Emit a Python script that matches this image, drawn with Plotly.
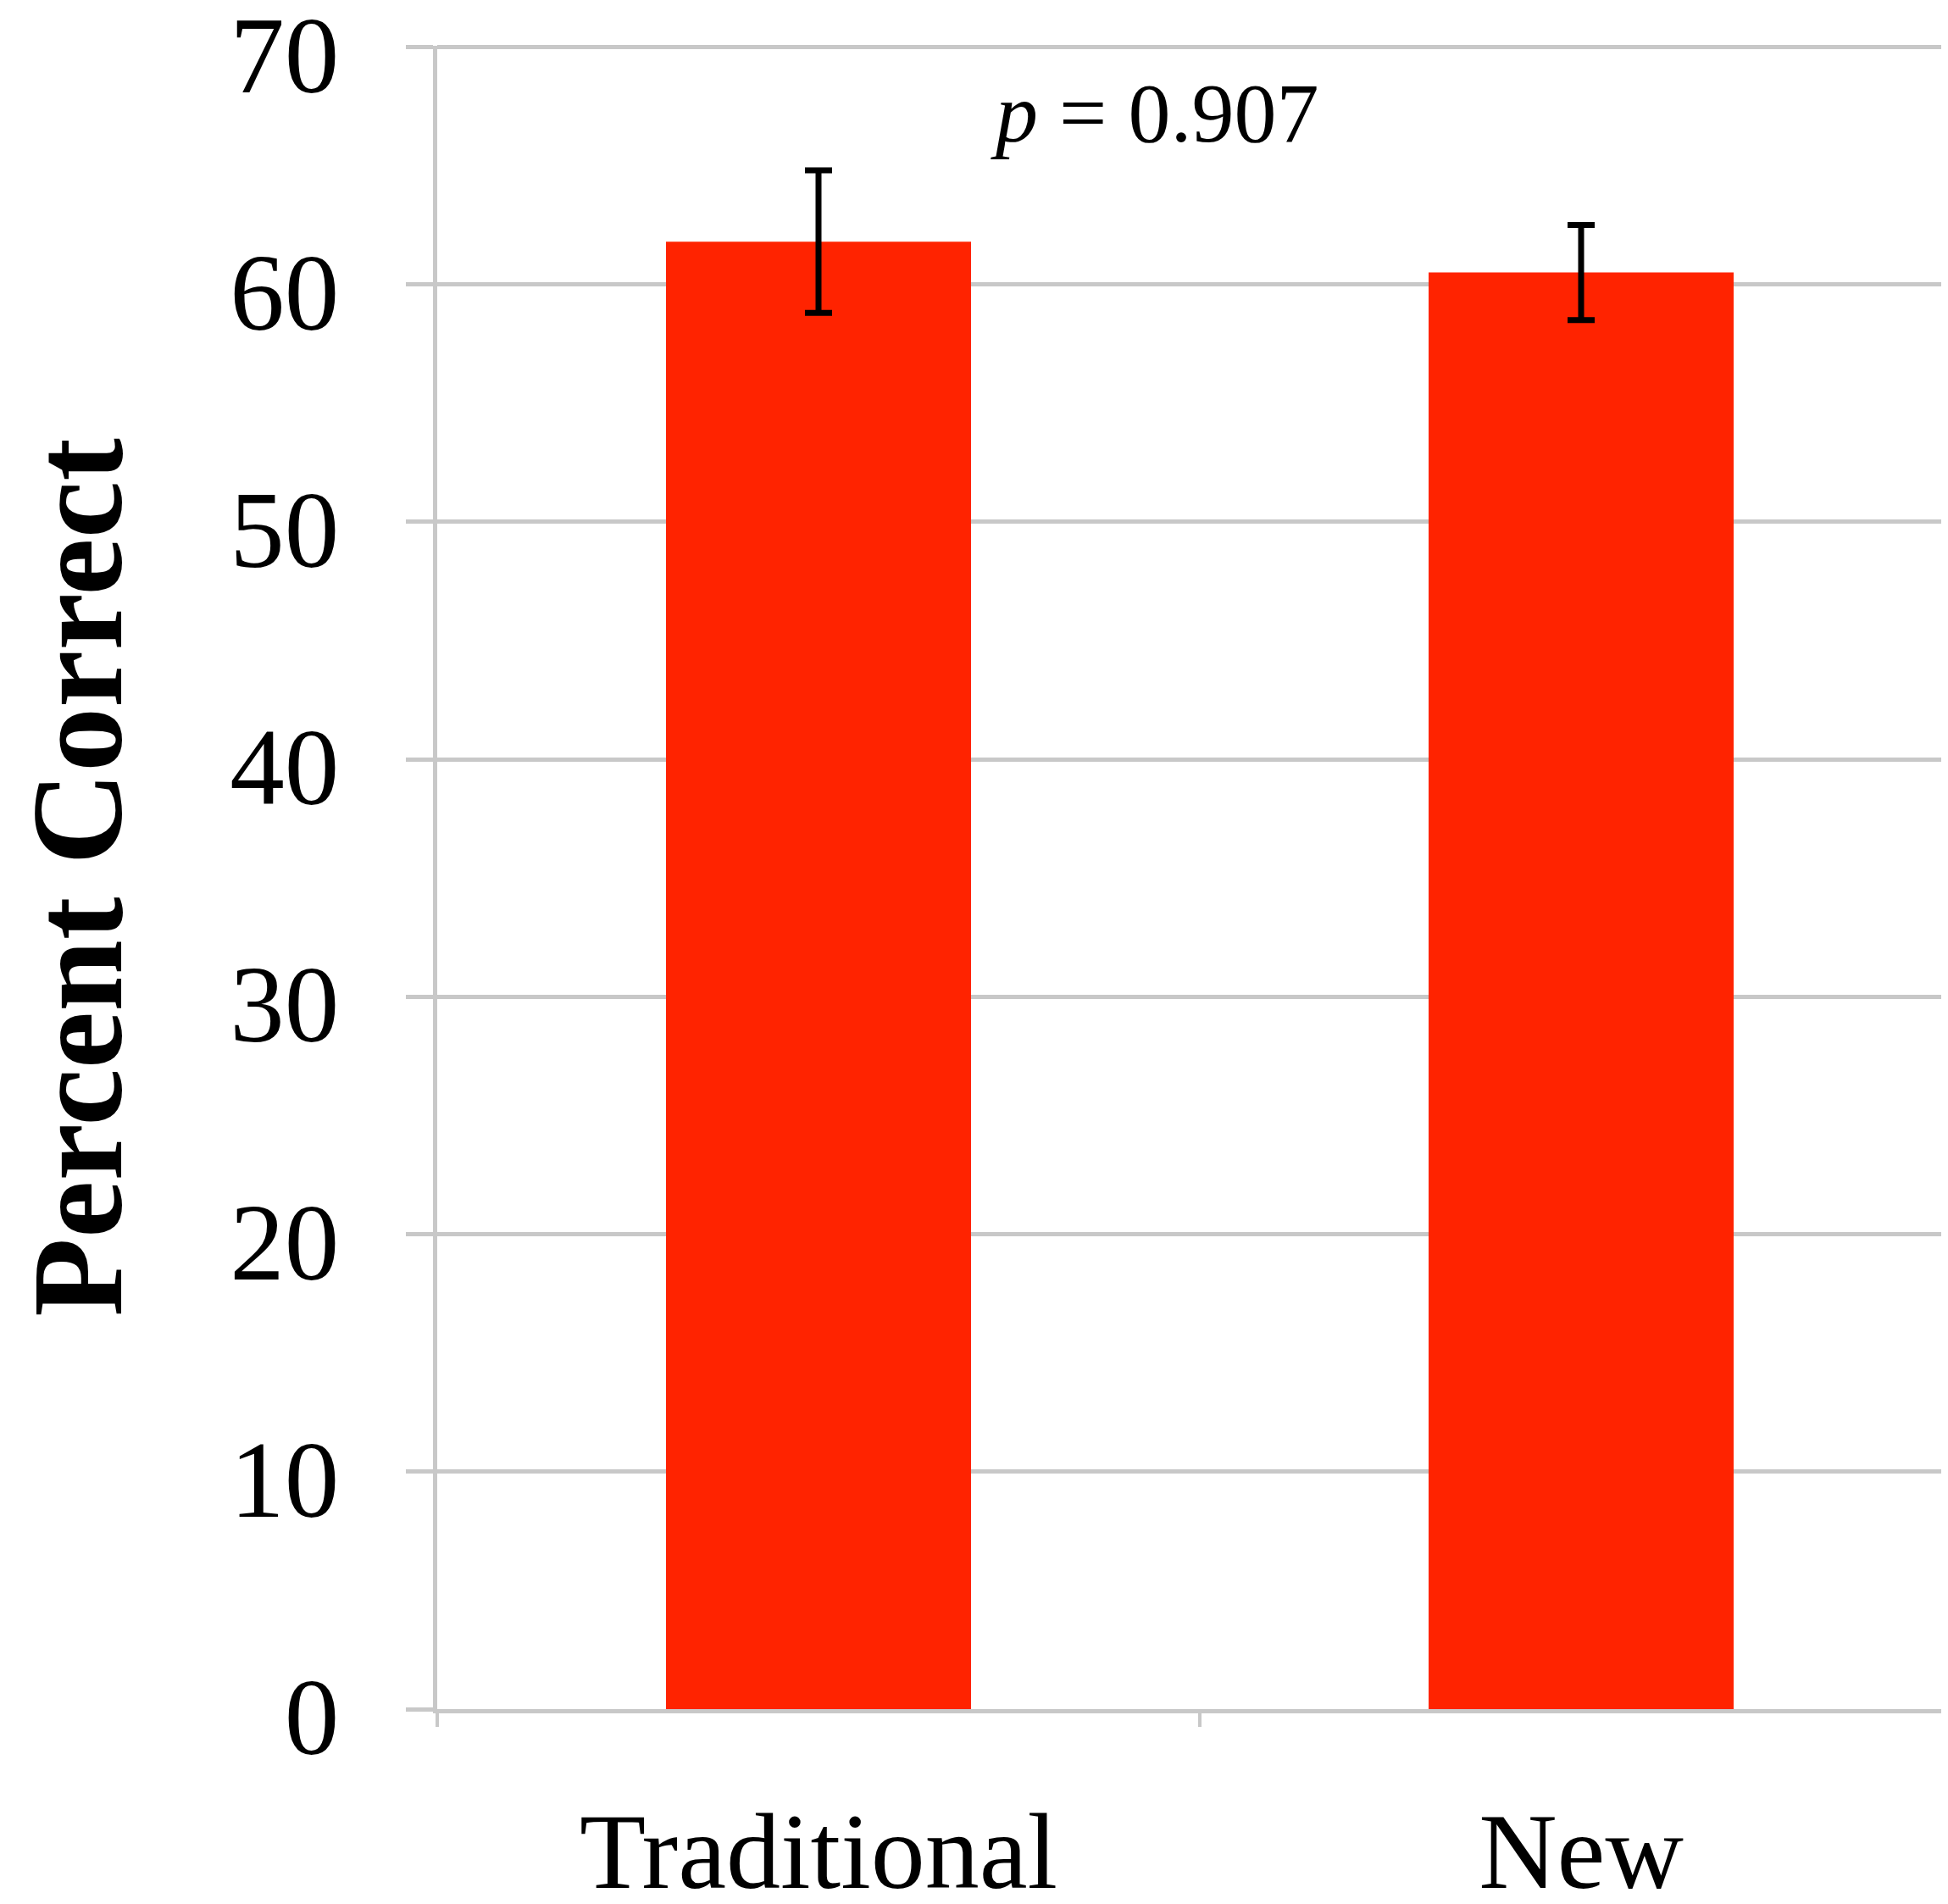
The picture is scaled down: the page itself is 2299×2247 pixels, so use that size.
import plotly.graph_objects as go

# chart values
groups = ["Traditional", "New"]
percent_correct = [61.8, 60.5]
errors = [3.0, 2.0]
y_ticks = [0, 10, 20, 30, 40, 50, 60, 70]
p_label = "<i>p</i> = 0.907"

bar_color = "#FF2300"
grid_color = "#C8C8C8"
serif = "Liberation Serif, Times New Roman, serif"

fig = go.Figure()
fig.add_trace(go.Bar(
    x=groups,
    y=percent_correct,
    marker=dict(color=bar_color, line=dict(width=0)),
    error_y=dict(type="data", array=errors, visible=True,
                 color="black", thickness=7, width=16),
    width=0.4,
    showlegend=False,
))

fig.add_annotation(
    x=0.44, y=67.2, xref="x", yref="y",
    text=p_label, showarrow=False,
    font=dict(family=serif, size=100, color="black"),
    xanchor="center", yanchor="middle",
)

# page body adds 8px, so margins are trimmed by that much
fig.update_layout(
    width=2299,
    height=2247,
    margin=dict(l=508, r=0, t=46, b=238),
    paper_bgcolor="white",
    plot_bgcolor="white",
    font=dict(family=serif, color="black"),
)

fig.update_xaxes(
    range=[-0.5, 1.49],
    automargin=False,
    showline=True, linecolor=grid_color, linewidth=5,
    showgrid=False,
    ticks="outside", tickson="boundaries", ticklen=16,
    tickcolor=grid_color, tickwidth=4,
    tickfont=dict(family=serif, size=128, color="black"),
    ticklabelstandoff=52,
)

fig.update_yaxes(
    range=[0, 70.05],
    automargin=False,
    tickvals=y_ticks,
    showgrid=True, gridcolor=grid_color, gridwidth=5,
    showline=True, linecolor=grid_color, linewidth=5,
    zeroline=False,
    ticks="outside", ticklen=32, tickcolor=grid_color, tickwidth=5,
    tickfont=dict(family=serif, size=129, color="black"),
    ticklabelstandoff=53,
    ticklabelshift=8,
    ticklabeloverflow="allow",
    title=dict(text="<b>Percent Correct</b>",
               font=dict(family=serif, size=152, color="black"),
               standoff=100),
)

fig.write_html("out.html")
